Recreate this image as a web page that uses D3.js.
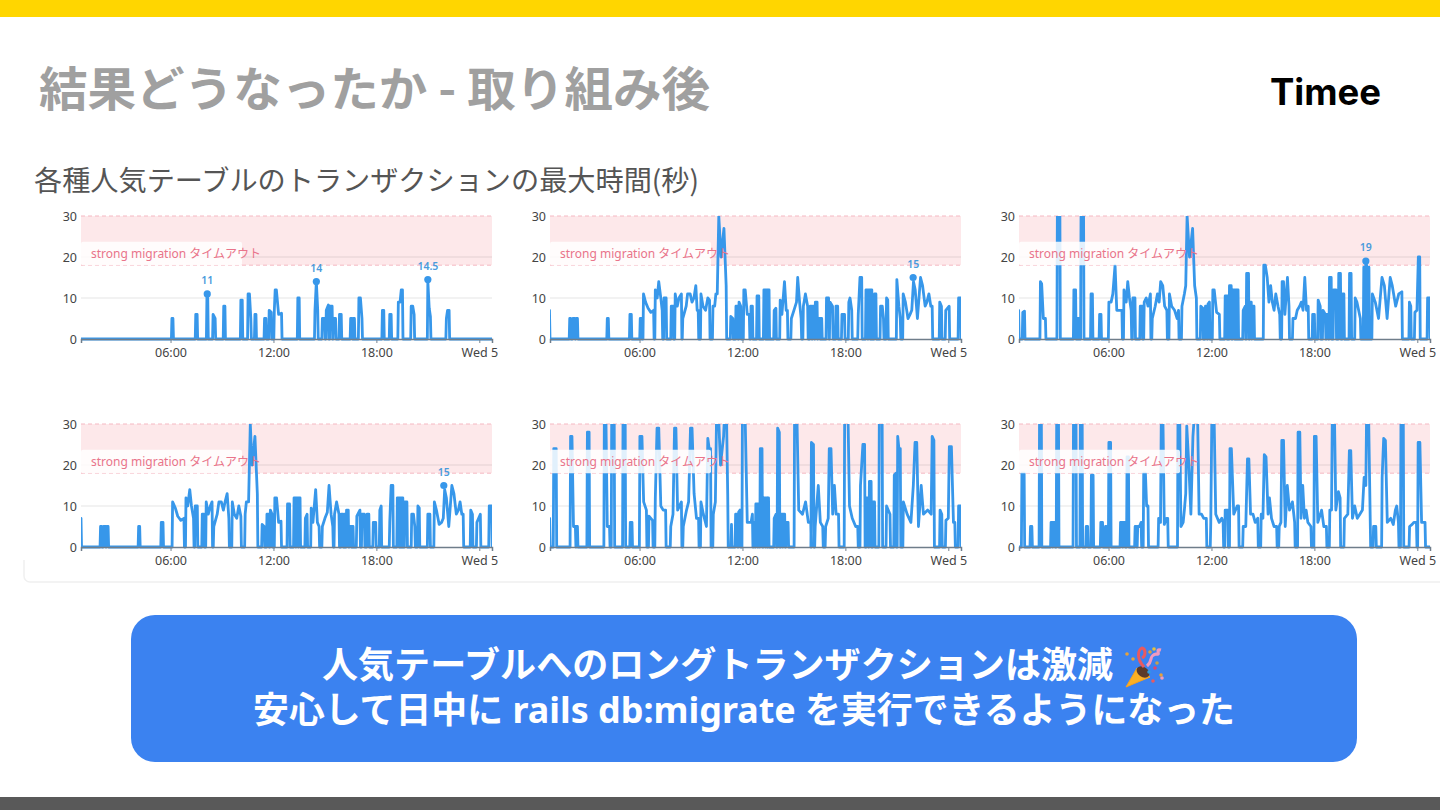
<!DOCTYPE html>
<html>
<head>
<meta charset="utf-8">
<script src="https://cdn.jsdelivr.net/npm/d3@7"></script>
<style>
  html, body { margin: 0; padding: 0; background: #fff; }
  svg { display: block; }
  text { font-family: "Noto Sans CJK JP", "Noto Sans", sans-serif; }
  .tick text { font-family: "Noto Sans", sans-serif; font-size: 12.5px; fill: #444; }
</style>
</head>
<body>
<svg id="slide" width="1440" height="810"></svg>
<script>
// every series is a list of bursts of [hour, seconds]; the line sits on 0 between bursts
const xTickHours = [6, 12, 18, 24];
const xTickLabels = ['06:00', '12:00', '18:00', 'Wed 5'];
const yTicks = [0, 10, 20, 30];
const timeoutBand = [18, 30];
const bandLabel = 'strong migration タイムアウト';

const seriesA = [
  [[6.08, 5], [6.14, 5]], [[7.47, 6], [7.55, 6]], [[8.12, 10], [8.17, 10]],
  [[8.48, 6], [8.6, 5]], [[9.1, 8], [9.17, 8]], [[10.1, 9.5], [10.18, 9.5]],
  [[10.52, 11], [10.6, 11], [10.68, 5]], [[10.92, 6], [10.98, 6]], [[11.48, 5], [11.56, 5]],
  [[11.75, 7], [11.87, 6.5]], [[12.05, 7], [12.1, 12], [12.17, 12], [12.3, 6], [12.47, 6.3]],
  [[13.42, 10], [13.5, 10]], [[14.42, 7], [14.5, 14], [14.58, 7]],
  [[14.85, 5], [14.98, 5]], [[15.08, 7], [15.2, 8.3]], [[15.3, 8], [15.42, 8]], [[15.5, 5], [15.62, 5]],
  [[15.85, 6], [15.95, 6]], [[16.5, 5], [16.58, 5]], [[16.66, 5], [16.72, 5]], [[16.98, 10], [17.07, 10], [17.16, 5]],
  [[18.35, 7], [18.43, 7]], [[18.78, 6], [18.86, 6]], [[19.28, 9], [19.38, 9], [19.45, 12], [19.52, 12]],
  [[20.03, 8], [20.12, 8], [20.2, 6]], [[21.0, 14], [21.08, 7.5], [21.15, 5.5]], [[22.08, 5], [22.15, 7], [22.24, 7]]
];

const seriesB = [
  [[0.75, 7]], [[1.93, 5], [1.98, 5]], [[2.12, 5], [2.22, 5]], [[2.3, 5], [2.38, 5]], [[4.12, 5], [4.18, 5]], [[5.44, 6], [5.52, 6]],
  [[6.04, 5], [6.1, 5]], [[6.23, 11], [6.35, 9], [6.5, 7.5], [6.66, 6.5], [6.82, 7]],
  [[6.92, 12], [7.03, 10], [7.12, 14], [7.24, 10], [7.32, 7]], [[7.43, 10], [7.55, 10]],
  [[7.85, 8], [7.96, 8]], [[8.08, 11], [8.2, 8], [8.3, 10], [8.44, 11]],
  [[8.52, 5], [8.72, 8], [8.8, 11], [8.95, 11], [9.06, 9], [9.17, 10], [9.28, 13], [9.36, 7], [9.42, 7]],
  [[9.58, 11], [9.7, 8], [9.85, 7], [9.98, 10], [10.08, 9.5]],
  [[10.28, 8], [10.38, 8], [10.45, 11], [10.53, 11], [10.62, 30], [10.75, 20], [10.92, 27], [11.05, 13]],
  [[11.32, 5.5], [11.44, 5]], [[11.62, 8], [11.72, 8]], [[11.8, 9], [11.9, 8]], [[12.08, 12], [12.16, 12], [12.28, 6], [12.4, 6]],
  [[12.5, 8], [12.58, 8]], [[12.85, 10.5], [12.95, 10.5]], [[13.25, 12], [13.32, 12]], [[13.38, 12], [13.45, 12]], [[13.5, 12], [13.55, 12]], [[13.85, 7], [13.95, 7.5]],
  [[14.2, 9.5], [14.3, 6], [14.45, 14], [14.55, 7], [14.62, 7]],
  [[14.85, 5], [15.0, 7], [15.15, 9], [15.22, 15], [15.33, 9], [15.42, 5]],
  [[15.55, 8], [15.67, 11], [15.8, 8]], [[15.95, 8], [16.02, 8]], [[16.1, 8], [16.18, 8]], [[16.25, 9], [16.35, 9]], [[16.42, 5], [16.5, 5]], [[16.56, 5], [16.62, 5]],
  [[16.9, 10], [17.02, 10]], [[17.1, 9], [17.25, 8]], [[17.45, 8], [17.55, 8]], [[17.8, 6], [17.95, 6]],
  [[18.2, 9], [18.27, 10], [18.37, 7]], [[18.75, 6], [18.85, 15], [18.95, 15]], [[19.2, 12], [19.28, 12]], [[19.35, 12], [19.42, 12]], [[19.48, 12], [19.54, 12]],
  [[19.7, 11], [19.78, 11]], [[20.05, 8], [20.15, 8], [20.22, 5]], [[20.4, 10], [20.47, 9.5]],
  [[21.0, 14.5], [21.12, 8], [21.2, 5]],
  [[21.37, 11], [21.5, 9], [21.65, 5], [21.77, 6], [21.87, 7], [21.97, 14], [22.07, 12], [22.2, 5], [22.38, 15], [22.5, 13], [22.65, 8], [22.75, 9], [22.87, 11], [22.98, 8], [23.06, 8]],
  [[23.5, 9], [23.6, 8]], [[23.85, 7], [24.05, 8]], [[24.6, 10], [24.72, 10]]
];

const seriesC = [
  [[0.76, 7]], [[1.0, 6.5], [1.1, 6.8]], [[2.03, 14], [2.1, 13.5], [2.2, 5], [2.32, 5]], [[3.02, 35], [3.16, 35]],
  [[3.98, 12], [4.08, 12]], [[4.2, 5], [4.26, 5]], [[4.4, 35], [4.54, 35]], [[4.98, 11], [5.06, 11]], [[5.48, 6], [5.56, 6]],
  [[6.02, 9], [6.15, 9], [6.25, 11], [6.38, 18], [6.48, 7], [6.64, 7], [6.78, 7]],
  [[6.9, 12], [7.03, 9], [7.12, 14], [7.22, 10], [7.32, 7]], [[7.42, 10], [7.54, 10]], [[7.85, 8], [7.96, 8]],
  [[8.08, 9], [8.2, 10], [8.3, 8], [8.44, 11]], [[8.55, 5], [8.72, 8], [8.85, 11], [8.95, 9], [9.04, 14], [9.16, 13], [9.27, 8], [9.4, 7]],
  [[9.55, 11], [9.68, 8], [9.85, 7], [10.0, 5], [10.08, 7]], [[10.28, 8], [10.42, 11], [10.5, 13], [10.58, 30], [10.72, 20], [10.9, 27], [11.02, 13], [11.12, 10]],
  [[11.38, 8], [11.5, 7.5]], [[11.65, 8], [11.72, 8]], [[11.8, 8.5], [11.88, 9]], [[12.08, 12], [12.16, 12], [12.3, 6.5], [12.46, 6]],
  [[12.8, 10.5], [12.88, 10.5]], [[12.94, 10.5], [13.0, 10.5]], [[13.05, 13], [13.15, 13]], [[13.25, 12], [13.32, 12]], [[13.38, 12], [13.45, 12]], [[13.5, 12], [13.55, 12]],
  [[13.85, 7], [13.97, 8]], [[14.05, 16], [14.16, 16]], [[14.25, 9], [14.32, 9]], [[14.38, 8], [14.48, 8]],
  [[15.05, 18], [15.14, 18], [15.25, 15], [15.35, 9], [15.45, 13], [15.55, 9], [15.65, 7], [15.75, 11], [15.88, 8], [15.98, 6]],
  [[16.12, 14], [16.2, 14], [16.28, 6], [16.43, 15], [16.52, 8]], [[16.75, 5], [16.9, 5], [17.0, 7], [17.14, 8], [17.24, 9], [17.34, 7], [17.44, 15], [17.54, 7], [17.64, 8]],
  [[17.9, 6], [18.0, 6]], [[18.22, 9.5], [18.34, 8]], [[18.5, 7], [18.64, 6]], [[18.72, 6], [18.8, 6]],
  [[18.88, 15], [18.98, 15]], [[19.12, 12], [19.26, 12]], [[19.42, 16], [19.52, 16]], [[19.65, 11], [19.72, 11]],
  [[20.05, 16], [20.14, 16]], [[20.38, 10], [20.48, 9], [20.68, 5]], [[20.88, 17.5], [20.95, 17.5]], [[21.0, 19], [21.06, 17.5]], [[21.12, 17.5], [21.18, 17.5]],
  [[21.38, 11], [21.55, 9], [21.74, 5], [21.94, 15], [22.08, 13], [22.24, 5], [22.42, 15], [22.54, 13], [22.74, 8], [22.92, 11], [23.1, 11.5]],
  [[23.54, 9], [23.62, 8]], [[23.86, 6.5], [23.98, 7], [24.06, 20], [24.14, 20]], [[24.6, 10], [24.72, 10]]
];

const seriesD = [
  [[0.78, 7]], [[1.92, 5], [1.98, 5]], [[2.1, 5], [2.2, 5]], [[2.28, 5], [2.36, 5]], [[4.14, 5], [4.2, 5]], [[5.46, 6], [5.56, 6]],
  [[6.12, 11], [6.28, 9.5], [6.42, 7.5], [6.6, 6.5], [6.78, 7]],
  [[6.9, 12], [7.0, 10], [7.12, 14], [7.22, 10], [7.34, 7]], [[7.44, 10], [7.56, 10]],
  [[7.85, 8], [7.95, 8]], [[8.08, 11], [8.2, 8], [8.32, 10], [8.42, 11]],
  [[8.52, 5], [8.72, 8], [8.82, 11], [8.96, 11], [9.08, 9], [9.18, 11], [9.3, 13], [9.4, 7]],
  [[9.6, 11], [9.72, 8], [9.86, 7], [9.98, 10], [10.1, 7.5]],
  [[10.35, 8], [10.42, 11], [10.55, 11], [10.65, 30], [10.75, 20], [10.92, 27], [11.06, 13]],
  [[11.34, 5.5], [11.46, 5]], [[11.62, 8], [11.72, 8]], [[11.82, 9], [11.92, 8]], [[12.08, 12], [12.18, 12], [12.3, 6], [12.44, 6.3]],
  [[12.82, 10.5], [12.94, 10.5]], [[13.2, 12], [13.28, 12]], [[13.34, 12], [13.42, 12]], [[13.48, 12], [13.55, 12]], [[13.86, 7], [13.96, 8]],
  [[14.2, 9.5], [14.3, 6], [14.46, 14], [14.56, 6], [14.66, 5]],
  [[14.85, 5], [15.0, 7], [15.14, 8.5], [15.24, 15], [15.36, 8], [15.46, 5]],
  [[15.56, 8], [15.68, 11], [15.82, 8]], [[15.96, 8], [16.04, 8]], [[16.12, 8], [16.18, 8]], [[16.26, 9], [16.36, 9]], [[16.44, 5], [16.52, 5]], [[16.58, 5], [16.64, 5]],
  [[16.86, 7.5], [17.04, 9]], [[17.16, 8], [17.3, 8]], [[17.46, 8], [17.56, 8]], [[17.82, 6], [17.96, 6]],
  [[18.2, 9], [18.28, 10]], [[18.78, 6], [18.86, 15], [18.96, 15]], [[19.22, 12], [19.3, 12]], [[19.36, 12], [19.42, 12]], [[19.48, 12], [19.54, 12]], [[19.66, 11], [19.78, 11]],
  [[20.06, 8], [20.16, 8], [20.24, 5]], [[20.42, 10], [20.5, 9.5]], [[21.0, 8], [21.12, 8]],
  [[21.38, 11], [21.5, 9], [21.66, 5.5], [21.8, 6], [21.9, 7], [21.98, 14], [22.08, 12], [22.22, 5], [22.4, 15], [22.52, 13], [22.66, 8], [22.78, 9], [22.88, 11], [22.98, 8], [23.06, 8]],
  [[23.5, 9], [23.6, 8]], [[23.86, 6], [24.06, 8]], [[24.58, 10], [24.72, 10]]
];

const seriesE = [
  [[0.76, 7]], [[1.0, 24], [1.14, 24]], [[1.98, 27], [2.06, 27], [2.15, 5], [2.26, 5]], [[2.32, 5], [2.38, 5]], [[2.96, 28], [3.06, 28]],
  [[3.95, 35], [4.03, 35], [4.12, 5], [4.25, 5]], [[4.38, 35], [4.52, 35]], [[5.04, 35], [5.16, 35]], [[5.46, 6], [5.56, 6]],
  [[6.02, 27], [6.14, 27], [6.24, 11], [6.4, 9]], [[6.55, 7.5], [6.76, 6.5]],
  [[6.92, 12], [7.02, 29], [7.12, 29], [7.24, 10], [7.38, 9], [7.52, 9]], [[7.82, 5], [7.95, 8], [8.04, 29], [8.12, 29], [8.22, 9], [8.44, 11]],
  [[8.55, 5], [8.74, 9], [8.86, 11], [8.97, 29], [9.06, 29], [9.18, 13], [9.32, 7], [9.44, 7]],
  [[9.58, 11], [9.72, 8], [9.9, 5], [9.98, 26.5], [10.06, 24], [10.14, 24]],
  [[10.3, 8], [10.42, 11], [10.5, 35], [10.58, 35], [10.72, 20], [10.9, 27], [10.98, 35], [11.06, 35], [11.14, 13]],
  [[11.36, 5.5]], [[11.6, 8], [11.7, 8]], [[11.78, 8.5], [11.86, 9]], [[12.0, 35], [12.14, 35], [12.28, 6], [12.5, 6], [12.58, 8]],
  [[12.66, 6], [12.72, 6]], [[12.78, 10.5], [12.86, 10.5]], [[12.92, 10.5], [12.98, 10.5]], [[13.04, 24], [13.14, 24]], [[13.24, 12], [13.31, 12]], [[13.37, 12], [13.44, 12]], [[13.48, 12], [13.52, 12]],
  [[13.85, 7], [13.96, 8]], [[14.05, 29], [14.15, 28]], [[14.25, 8], [14.32, 8]], [[14.38, 8], [14.46, 8]], [[14.55, 6], [14.66, 6]],
  [[15.04, 35], [15.16, 35], [15.28, 9], [15.5, 8], [15.68, 11], [15.84, 6], [15.98, 6]],
  [[16.02, 25.5], [16.14, 25]], [[16.24, 5], [16.42, 15], [16.54, 6], [16.68, 5]], [[16.85, 5], [17.0, 7], [17.06, 24], [17.16, 24], [17.26, 8], [17.36, 15], [17.46, 8], [17.6, 8]],
  [[17.96, 35], [18.14, 35], [18.24, 10], [18.4, 7], [18.6, 5], [18.72, 5]],
  [[18.88, 15], [19.02, 25], [19.12, 25]], [[19.24, 12], [19.32, 12]], [[19.4, 16], [19.5, 16]], [[19.62, 11], [19.7, 11]], [[19.98, 35], [20.14, 35]],
  [[20.4, 10], [20.6, 8]], [[20.85, 17.5], [20.95, 18]], [[21.05, 27], [21.12, 24], [21.2, 24]],
  [[21.38, 11], [21.6, 8], [21.82, 6], [21.96, 15], [22.06, 25.5], [22.16, 25.5], [22.26, 5], [22.42, 15], [22.55, 8], [22.8, 9], [23.0, 8], [23.06, 27], [23.16, 26]],
  [[23.52, 9], [23.62, 8]], [[23.86, 6.5], [24.0, 7], [24.06, 24.5], [24.18, 24.5], [24.3, 6], [24.38, 6]], [[24.6, 10], [24.72, 10]]
];

const seriesF = [
  [[0.95, 18], [1.08, 18]], [[1.45, 5], [1.53, 5]], [[1.98, 35], [2.08, 35]], [[2.65, 6], [2.72, 6]], [[2.78, 6], [2.86, 6]], [[2.98, 35], [3.08, 35]],
  [[3.96, 35], [4.1, 35]], [[4.36, 35], [4.46, 35]], [[4.7, 5], [4.78, 5]], [[5.0, 17.5], [5.1, 17.5]], [[5.55, 6], [5.65, 6]], [[5.82, 5], [5.87, 5]],
  [[6.02, 25.5], [6.12, 25.5]], [[6.7, 6], [6.8, 6]], [[6.86, 6], [6.95, 6]], [[7.08, 22], [7.16, 22]], [[7.55, 5], [7.62, 5]], [[7.7, 5], [7.8, 5], [7.9, 6]],
  [[8.05, 18], [8.15, 18], [8.22, 10], [8.3, 10]], [[8.92, 7], [9.03, 6], [9.08, 35], [9.16, 35], [9.25, 5.5], [9.38, 7], [9.45, 7]],
  [[10.05, 35], [10.14, 35], [10.22, 5], [10.35, 6], [10.42, 9], [10.5, 13], [10.56, 29.5], [10.68, 20], [10.8, 8], [10.92, 27], [11.05, 35], [11.18, 35], [11.28, 8], [11.42, 8], [11.55, 7], [11.7, 7]],
  [[11.96, 6], [12.03, 35], [12.14, 35], [12.25, 8], [12.45, 6], [12.6, 7], [12.68, 6]],
  [[12.8, 9], [12.95, 9]], [[13.08, 24], [13.16, 24], [13.3, 8], [13.5, 10], [13.58, 10]],
  [[13.85, 5], [14.0, 5], [14.1, 21.5], [14.18, 21.5], [14.28, 8], [14.42, 8], [14.55, 6], [14.7, 7]],
  [[14.9, 8], [15.0, 7], [15.08, 22.5], [15.18, 22], [15.3, 8], [15.38, 12], [15.5, 7], [15.65, 5], [15.8, 5]],
  [[15.95, 5], [16.05, 6], [16.1, 26], [16.2, 26], [16.3, 5], [16.42, 15], [16.55, 9], [16.72, 11], [16.85, 6]],
  [[17.05, 28], [17.15, 28], [17.22, 7], [17.32, 15], [17.42, 7], [17.52, 9], [17.62, 6], [17.8, 5]],
  [[18.0, 27], [18.1, 27], [18.2, 6], [18.42, 9], [18.55, 5], [18.7, 5]],
  [[18.9, 9], [19.0, 9], [19.05, 35], [19.16, 35], [19.25, 9], [19.4, 13.5], [19.5, 12]],
  [[19.75, 7], [19.95, 8], [20.04, 23.5], [20.12, 23.5], [20.22, 7], [20.35, 10], [20.5, 7], [20.65, 8], [20.8, 9], [20.9, 17], [21.0, 15], [21.05, 35], [21.15, 35], [21.25, 8]],
  [[21.45, 5], [21.58, 5]],
  [[21.95, 17], [22.04, 26.5], [22.14, 26], [22.25, 6], [22.45, 7], [22.6, 5.5], [22.72, 9], [22.8, 10], [22.9, 6]],
  [[23.05, 35], [23.18, 35]], [[23.55, 5], [23.7, 5.5], [23.8, 6], [23.95, 6]], [[24.05, 25.5], [24.15, 25.5], [24.25, 6], [24.45, 6]]
];

const calloutsA = [[8.14, 11, '11'], [14.5, 14, '14'], [21.0, 14.5, '14.5']];
const calloutsB = [[21.95, 15, '15']];
const calloutsC = [[21.0, 19, '19']];
const calloutsD = [[21.93, 15, '15']];

const panels = [
  { series: seriesA, callouts: calloutsA, left: 81, top: 216 },
  { series: seriesB, callouts: calloutsB, left: 550, top: 216 },
  { series: seriesC, callouts: calloutsC, left: 1019, top: 216 },
  { series: seriesD, callouts: calloutsD, left: 81, top: 424 },
  { series: seriesE, callouts: [], left: 550, top: 424 },
  { series: seriesF, callouts: [], left: 1019, top: 424 }
];

const plotW = 411, plotH = 123;
const blue = '#3797ea', pink = '#e9748a';

const svg = d3.select('#slide');

// slide furniture
svg.append('rect').attr('width', 1440).attr('height', 17).attr('fill', '#ffd600');
svg.append('rect').attr('y', 797).attr('width', 1440).attr('height', 13).attr('fill', '#595959');
svg.append('text').attr('x', 39).attr('y', 106)
  .attr('font-size', 47).attr('font-weight', 700).attr('fill', '#a0a0a0')
  .attr('textLength', 671).attr('lengthAdjust', 'spacingAndGlyphs')
  .text('結果どうなったか - 取り組み後');
svg.append('text').attr('x', 1270).attr('y', 105)
  .style('font-family', 'Inter').attr('font-size', 37).attr('font-weight', 700).attr('fill', '#000')
  .attr('textLength', 111).attr('lengthAdjust', 'spacingAndGlyphs')
  .text('Timee');
svg.append('rect').attr('x', 24).attr('y', 190).attr('width', 1440).attr('height', 392).attr('rx', 6)
  .attr('fill', '#fff').attr('stroke', '#f0f0f0').attr('stroke-width', 1.5);
svg.append('rect').attr('x', 20).attr('y', 170).attr('width', 1420).attr('height', 40).attr('fill', '#fff');
svg.append('rect').attr('x', 20).attr('y', 170).attr('width', 6).attr('height', 390).attr('fill', '#fff');
svg.append('text').attr('x', 34).attr('y', 191)
  .attr('font-size', 28).attr('fill', '#555')
  .attr('textLength', 665).attr('lengthAdjust', 'spacingAndGlyphs')
  .text('各種人気テーブルのトランザクションの最大時間(秒)');

const x0 = d3.scaleLinear().domain([0.78, 24.74]).range([0, plotW]);
const y0 = d3.scaleLinear().domain([0, 30]).range([plotH, 0]);

// bursts -> one continuous line that returns to zero around each burst
function toPoints(series) {
  const pts = [[x0.domain()[0], 0]];
  series.forEach(burst => {
    pts.push([burst[0][0] - 0.03, 0]);
    burst.forEach(p => pts.push(p));
    pts.push([burst[burst.length - 1][0] + 0.03, 0]);
  });
  pts.push([x0.domain()[1], 0]);
  return pts;
}

const line = d3.line().x(d => x0(d[0])).y(d => y0(d[1]));

panels.forEach((p, i) => {
  const g = svg.append('g').attr('transform', `translate(${p.left},${p.top})`);

  g.append('defs').append('clipPath').attr('id', `plot-${i}`)
    .append('rect').attr('x', 0).attr('y', 0).attr('width', plotW).attr('height', plotH + 2);

  // timeout band
  g.append('rect').attr('x', 0).attr('width', plotW)
    .attr('y', y0(timeoutBand[1])).attr('height', y0(timeoutBand[0]) - y0(timeoutBand[1]))
    .attr('fill', '#fde8ea');
  timeoutBand.forEach(v => {
    g.append('line').attr('x1', 0).attr('x2', plotW).attr('y1', y0(v)).attr('y2', y0(v))
      .attr('stroke', '#f5b8c2').attr('stroke-dasharray', '4 3');
  });

  // grid
  g.selectAll('.grid').data([10, 20]).join('line').attr('class', 'grid')
    .attr('x1', 0).attr('x2', plotW).attr('y1', d => y0(d)).attr('y2', d => y0(d))
    .attr('stroke', '#000').attr('stroke-opacity', 0.1);

  const yAxis = g.append('g').call(d3.axisLeft(y0).tickValues(yTicks).tickSize(0).tickPadding(4));
  yAxis.select('.domain').remove();

  g.append('path').datum(toPoints(p.series))
    .attr('clip-path', `url(#plot-${i})`)
    .attr('fill', 'none').attr('stroke', blue).attr('stroke-width', 2.8)
    .attr('stroke-linejoin', 'round')
    .attr('d', line);

  const xAxis = g.append('g').attr('transform', `translate(0,${plotH})`)
    .call(d3.axisBottom(x0).tickValues(xTickHours).tickSize(4).tickPadding(5)
      .tickFormat((d, k) => xTickLabels[k]));
  xAxis.select('.domain').attr('stroke', '#6f7d8a').attr('stroke-width', 1.5);
  xAxis.selectAll('.tick line').attr('stroke', '#76838f');

  // label chip sits over the line, a little see-through
  g.append('rect').attr('x', 0).attr('y', y0(23.7)).attr('width', 161).attr('height', y0(18) - y0(23.7))
    .attr('rx', 2).attr('fill', '#fff').attr('fill-opacity', 0.85);
  g.append('text').attr('x', 10).attr('y', y0(20) + 1)
    .attr('font-size', 12).attr('fill', pink).style('font-family', '"Noto Sans", "Noto Sans CJK JP", sans-serif')
    .text(bandLabel);

  p.callouts.forEach(c => {
    g.append('circle').attr('cx', x0(c[0])).attr('cy', y0(c[1])).attr('r', 3.6).attr('fill', blue);
    g.append('text').attr('x', x0(c[0])).attr('y', y0(c[1]) - 10).attr('text-anchor', 'middle')
      .attr('font-size', 10.5).attr('font-weight', 600).attr('fill', '#4a9bdc')
      .style('font-family', '"Noto Sans", sans-serif').text(c[2]);
  });
});

// message box
svg.append('rect').attr('x', 131).attr('y', 615).attr('width', 1226).attr('height', 147).attr('rx', 24).attr('fill', '#3b82f0');
svg.append('text').attr('x', 322).attr('y', 678)
  .attr('font-size', 36).attr('font-weight', 700).attr('fill', '#fff')
  .attr('textLength', 791).attr('lengthAdjust', 'spacingAndGlyphs')
  .text('人気テーブルへのロングトランザクションは激減');
svg.append('text').attr('x', 253).attr('y', 723)
  .attr('font-size', 36).attr('font-weight', 700).attr('fill', '#fff')
  .attr('textLength', 982).attr('lengthAdjust', 'spacingAndGlyphs')
  .style('font-family', '"Noto Sans", "Noto Sans CJK JP", sans-serif')
  .text('安心して日中に rails db:migrate を実行できるようになった');

// party popper, no emoji font in the sandbox
const popper = svg.append('g').attr('transform', 'translate(1100,630)');
popper.append('path').attr('d', 'M26 57 L37 38 L50 47 Z').attr('fill', '#fbb024').attr('stroke', '#f5a020').attr('stroke-linejoin', 'round');
popper.append('ellipse').attr('cx', 43).attr('cy', 42).attr('rx', 7).attr('ry', 5).attr('transform', 'rotate(35 43 42)').attr('fill', '#5b3a2a');
popper.append('path').attr('d', 'M44 37 C36 28 38 20 42 18 C46 19 46 26 42 28').attr('fill', 'none').attr('stroke', '#e85a60').attr('stroke-width', 3);
popper.append('path').attr('d', 'M47 36 C54 30 48 26 56 24 C62 26 54 18 61 20').attr('fill', 'none').attr('stroke', '#ef9ac0').attr('stroke-width', 3);
popper.selectAll('.bit').data([[27, 24, '#e5a23c'], [33, 29, '#e5a23c'], [50, 22, '#d9a23c'], [54, 19, '#e5c23c'], [57, 33, '#c8a048'], [55, 38, '#e0456c'], [62, 48, '#ef9ac0'], [53, 51, '#e85a60'], [61, 45, '#e5a23c'], [49, 42, '#2f9de0']])
  .join('circle').attr('class', 'bit').attr('cx', d => d[0]).attr('cy', d => d[1]).attr('r', 1.8).attr('fill', d => d[2]);
</script>
</body>
</html>
